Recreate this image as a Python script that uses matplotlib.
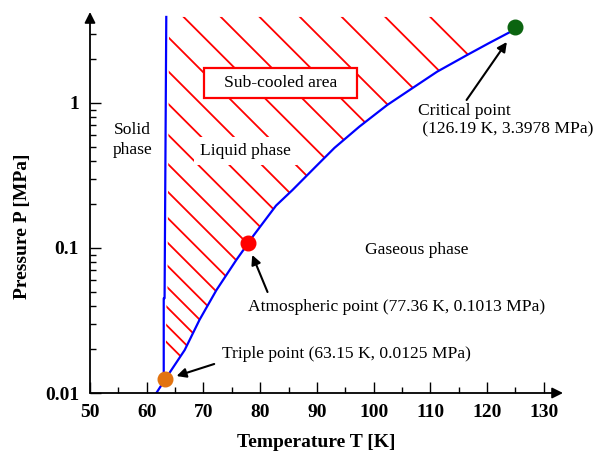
import numpy as np
import matplotlib
matplotlib.use("Agg")
import matplotlib.pyplot as plt
from matplotlib.patches import Polygon
from matplotlib.ticker import FixedLocator, NullFormatter

# saturation (vapour pressure) curve
vap_T = [61.7, 63.3, 66.7, 69.3, 72.3, 75.8, 77.9, 78.7, 82.8, 85.7, 89.8, 93.1,
         97.5, 102.4, 106.8, 111.2, 116.5, 120.3, 124.2]
vap_P = [0.010, 0.0125, 0.0198, 0.0319, 0.0513, 0.0827, 0.108, 0.120, 0.196, 0.251, 0.364, 0.490,
         0.687, 0.968, 1.262, 1.643, 2.143, 2.581, 3.105]

# melting line
melt_T = [63.0, 63.0, 63.15, 63.45]
melt_P = [0.0125, 0.045, 0.045, 3.92]

# marked points (position on chart) and their quoted values
pt_names = ["Triple point", "Atmospheric point", "Critical point"]
pt_T = [63.3, 77.9, 125.0]
pt_P = [0.0125, 0.108, 3.36]
quoted_T = ["63.15", "77.36", "126.19"]
quoted_P = ["0.0125", "0.1013", "3.3978"]
pt_colors = ["#E2730F", "#FF0000", "#0B6410"]

x_ticks = [50, 60, 70, 80, 90, 100, 110, 120, 130]
x_minor = [55, 65, 75, 85, 95, 105, 115, 125]
y_ticks = [0.01, 0.1, 1]
y_tick_labels = ["0.01", "0.1", "1"]
y_minor = [0.02, 0.03, 0.04, 0.05, 0.06, 0.07, 0.08, 0.09,
           0.2, 0.3, 0.4, 0.5, 0.6, 0.7, 0.8, 0.9, 2, 3]

plt.rcParams["font.family"] = ["Liberation Serif", "DejaVu Serif"]

fig = plt.figure(figsize=(5.95, 4.59), dpi=100)
ax = fig.add_axes([90 / 595, 66 / 459, 473 / 595, 381 / 459])
ax.set_yscale("log")
ax.set_xlim(50, 133.4)
ax.set_ylim(0.01, 4.24)

# hatched sub-cooled liquid region (hatch stops a little short of the melting line)
region = [(t + 0.5, p) for t, p in zip(melt_T, melt_P) if p > 0.02]
region += [(pt_T[2], melt_P[-1])]
region += [(t, p) for t, p in zip(vap_T[::-1], vap_P[::-1]) if t >= pt_T[0]]
clip = Polygon(region, closed=True, transform=ax.transData, fill=False, edgecolor="none")
ax.add_patch(clip)

s = fig.dpi / 100
x0, y0 = ax.transData.transform((melt_T[-1], melt_P[-1]))
offsets = -264 + np.concatenate([[0], np.cumsum(np.linspace(45, 17, 19))])
inv = ax.transData.inverted()
for d in offsets:
    a = inv.transform((x0 - 600 * s, y0 - d * s + 600 * s))
    b = inv.transform((x0 + 700 * s, y0 - d * s - 700 * s))
    ln, = ax.plot([a[0], b[0]], [a[1], b[1]], color="#FF0000", lw=1.3, zorder=2)
    ln.set_clip_path(clip)

ax.plot(vap_T, vap_P, color="#0000FF", lw=1.6, zorder=4)
ax.plot(melt_T, melt_P, color="#0000FF", lw=1.6, zorder=4)
for t, p, c in zip(pt_T, pt_P, pt_colors):
    ax.plot(t, p, "o", color=c, ms=10.5, zorder=6, clip_on=False)

# axes with arrows
for side in ["top", "right", "left", "bottom"]:
    ax.spines[side].set_visible(False)
arrow = dict(arrowstyle="-|>", color="black", lw=1.3, mutation_scale=16, shrinkA=0, shrinkB=0)
ax.annotate("", xy=(1, 0), xytext=(0, 0), xycoords="axes fraction", arrowprops=arrow, zorder=7)
ax.annotate("", xy=(0, 1), xytext=(0, 0), xycoords="axes fraction", arrowprops=arrow, zorder=7)

ax.set_xticks(x_ticks)
ax.xaxis.set_minor_locator(FixedLocator(x_minor))
ax.set_yticks(y_ticks)
ax.set_yticklabels(y_tick_labels)
ax.yaxis.set_minor_locator(FixedLocator(y_minor))
ax.yaxis.set_minor_formatter(NullFormatter())
ax.tick_params(which="major", direction="in", length=8, width=1.0, pad=8, labelsize=14)
ax.tick_params(which="minor", direction="in", length=4, width=1.0)
for lab in ax.get_xticklabels() + ax.get_yticklabels():
    lab.set_fontweight("bold")

ax.set_xlabel("Temperature T [K]", fontsize=14, fontweight="bold", va="center")
ax.set_ylabel("Pressure P [MPa]", fontsize=14, fontweight="bold", va="center")
ax.xaxis.set_label_coords(0.478, -0.131)
ax.yaxis.set_label_coords(-0.142, 0.438)

fs = 12.6
ax.text(57.5, 0.556, "Solid\nphase", fontsize=fs, ha="center", va="center", linespacing=1.4)
ax.text(77.4, 0.467, "Liquid phase", fontsize=fs, ha="center", va="center", zorder=5,
        bbox=dict(boxstyle="square,pad=0.35", fc="white", ec="none"))
ax.text(83.55, 1.374, "   Sub-cooled area   ", fontsize=fs, ha="center", va="center", zorder=5,
        bbox=dict(boxstyle="square,pad=0.4", fc="white", ec="#FF0000", lw=1.6))
ax.text(107.7, 0.0969, "Gaseous phase", fontsize=fs, ha="center", va="center")

lbl = [f"{n} ({t} K, {p} MPa)" for n, t, p in zip(pt_names, quoted_T, quoted_P)]
head = dict(arrowstyle="-|>", color="black", lw=1.5, mutation_scale=14, shrinkA=0, shrinkB=0)
ax.text(73.35, 0.01858, lbl[0], fontsize=fs, ha="left", va="center")
ax.annotate("", xy=(65.26, 0.01309), xytext=(71.9, 0.01585), arrowprops=head)
ax.text(77.9, 0.0392, lbl[1], fontsize=fs, ha="left", va="center")
ax.annotate("", xy=(78.6, 0.0895), xytext=(81.3, 0.0497), arrowprops=head)
ax.text(107.84, 0.764, f"{pt_names[2]}\n ({quoted_T[2]} K, {quoted_P[2]} MPa)",
        fontsize=fs, ha="left", va="center", linespacing=1.2)
ax.annotate("", xy=(123.5, 2.634), xytext=(116.4, 1.049), arrowprops=head)

fig.savefig("out.png", dpi=100)
